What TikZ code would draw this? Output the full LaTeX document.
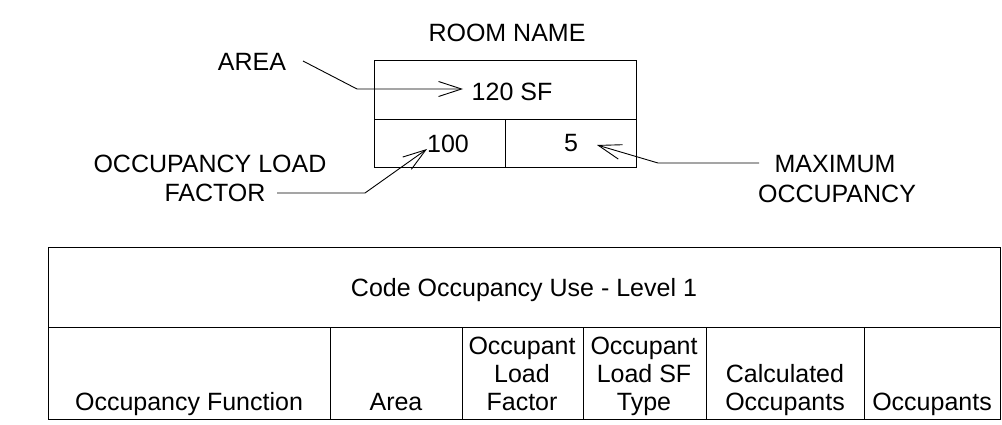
\documentclass[tikz,border=0pt]{standalone}
\usepackage{fontspec}
\setmainfont{Liberation Sans}
\usetikzlibrary{arrows.meta}
\begin{document}
\begin{tikzpicture}[x=1pt,y=-1pt,line width=1pt,
  lbl/.style={font=\fontsize{25}{28}\selectfont, anchor=base, inner sep=0pt, align=center},
  lead/.style={line width=0.9pt, -{Straight Barb[length=23pt,width=15pt,line width=0.9pt]}},
  frame/.style={draw=black, line width=1pt}]
\useasboundingbox (0,0) rectangle (1002,425);

% ---- room tag ----
\node[lbl] (room) at (507,42) {ROOM NAME};
\draw[frame] (374,61) rectangle (636,168);
\draw[frame] (374,120) -- (636,120);
\draw[frame] (505,120) -- (505,168);
\node[lbl] (area) at (512,101) {120 SF};
\node[lbl] (olf) at (448,153) {100};
\node[lbl] (maxo) at (571,152) {5};

% ---- labels ----
\node[lbl] (arealbl) at (252,71) {AREA};
\node[lbl] (olflbl1) at (210,173) {OCCUPANCY LOAD};
\node[lbl] (olflbl2) at (215,202) {FACTOR};
\node[lbl] (maxlbl1) at (835,173) {MAXIMUM};
\node[lbl] (maxlbl2) at (837,203) {OCCUPANCY};

% ---- leaders ----
\coordinate (a0) at (303,61);
\coordinate (a1) at (357,89);
\coordinate (a2) at (463,89);
\draw[lead] (a0) -- (a1) -- (a2);

\coordinate (o0) at (277,193);
\coordinate (o1) at (365,193);
\coordinate (o2) at (427,149);
\draw[lead] (o0) -- (o1) -- (o2);

\coordinate (m0) at (759,163);
\coordinate (m1) at (658,163);
\coordinate (m2) at (597,145);
\draw[lead] (m0) -- (m1) -- (m2);

% ---- table ----
\draw[frame] (48,247) rectangle (1000,419);
\draw[frame] (48,327) -- (1000,327);
\foreach \x in {330,462,583,706,864} {\draw[frame] (\x,327) -- (\x,419);}
\node[lbl] (title) at (524,296) {Code Occupancy Use - Level 1};
\node[lbl] (c1) at (189,410) {Occupancy Function};
\node[lbl] (c2) at (396,410) {Area};
\node[lbl] (c3) at (522,410) {Occupant\\Load\\Factor};
\node[lbl] (c4) at (644,410) {Occupant\\Load SF\\Type};
\node[lbl] (c5) at (785,410) {Calculated\\Occupants};
\node[lbl] (c6) at (932,410) {Occupants};
\end{tikzpicture}
\end{document}
